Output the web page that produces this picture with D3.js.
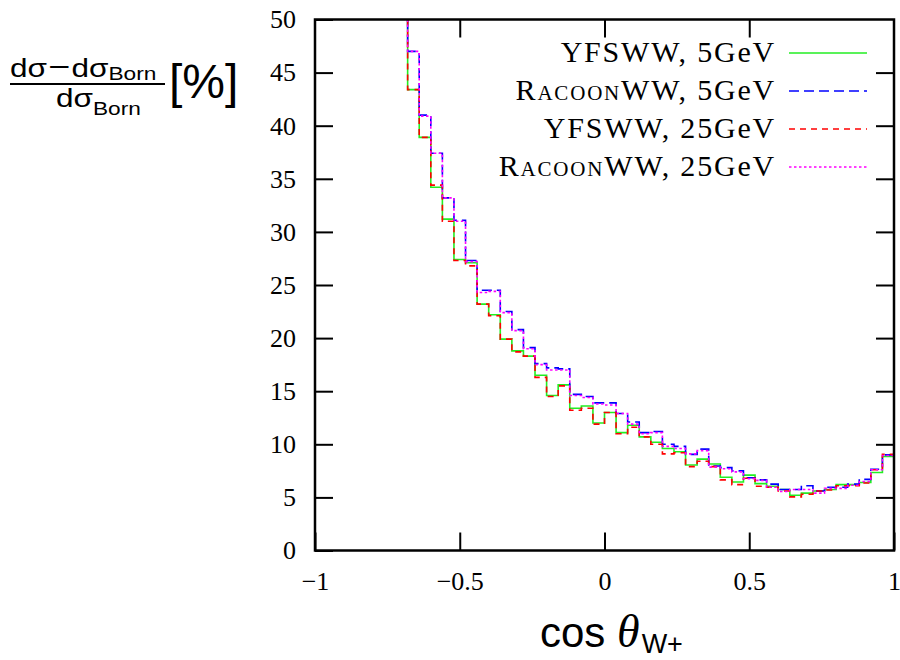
<!DOCTYPE html>
<html>
<head>
<meta charset="utf-8">
<script src="https://cdn.jsdelivr.net/npm/d3@7"></script>
<style>
  body { margin: 0; background: #fff; }
  svg { display: block; }
</style>
</head>
<body>
<script>

// histogram bins: 0.04 wide, first visible bin starts at cos = -0.68
const binStart = -0.68;
const binWidth = 0.04;

const yfsww5 = [43.4, 38.9, 34.2, 31.2, 27.4, 27.1, 23.2, 22.2, 19.9, 18.8, 18.3, 16.5, 14.6, 15.6,
    13.4, 13.6, 12.0, 13.0, 11.1, 11.8, 10.7, 10.2, 9.6, 9.3, 8.05, 8.6, 8.15, 6.9, 6.45, 7.1,
    6.3, 6.05, 5.75, 5.2, 5.4, 5.6, 5.75, 6.2, 6.2, 6.4, 7.35, 8.85];
const racoon5 = [47.0, 41.0, 37.4, 33.2, 31.1, 27.3, 24.5, 24.5, 22.5, 20.8, 19.1, 17.6, 17.2, 17.1,
    14.7, 14.5, 13.9, 13.9, 12.9, 12.1, 11.1, 11.2, 10.0, 9.8, 9.05, 9.55, 7.95, 7.8, 7.5, 6.85,
    6.65, 6.25, 5.75, 5.75, 6.1, 5.6, 5.95, 5.95, 6.25, 6.7, 7.65, 9.0];
const yfsww25 = [43.4, 38.9, 34.4, 31.0, 27.3, 26.8, 23.2, 22.1, 19.9, 18.7, 18.3, 16.3, 14.5, 15.5,
    13.2, 13.4, 11.9, 13.0, 11.0, 11.6, 10.7, 10.0, 9.1, 9.2, 7.9, 8.4, 7.9, 6.65, 6.2, 6.8,
    6.05, 5.95, 5.6, 5.05, 5.3, 5.6, 5.7, 6.1, 6.1, 6.35, 7.6, 9.05];
const racoon25 = [47.0, 40.9, 37.4, 33.2, 31.0, 27.2, 24.3, 24.4, 22.4, 20.7, 19.0, 17.5, 17.0, 17.0,
    14.6, 14.4, 13.8, 13.7, 12.9, 11.9, 11.0, 11.1, 9.8, 9.6, 9.1, 9.4, 7.85, 7.7, 7.4, 6.75,
    6.6, 5.95, 5.55, 5.75, 5.75, 5.4, 5.85, 5.85, 6.15, 6.5, 7.6, 8.95];

const xTicks = [-1, -0.5, 0, 0.5, 1];
const xTickLabels = ["\u22121", "\u22120.5", "0", "0.5", "1"];
const yTicks = [0, 5, 10, 15, 20, 25, 30, 35, 40, 45, 50];

// legend: [program, energy, values, color, dash]
const series = [
    ["YFSWW", "5GeV", yfsww5, "#22ee22", null],
    ["Racoon", "5GeV", racoon5, "#0000ff", "10,5"],
    ["YFSWW", "25GeV", yfsww25, "#ff0000", "6,5"],
    ["Racoon", "25GeV", racoon25, "#ff00ff", "2.5,2.5"]
];

const W = 900, H = 660;
const L = 315, R = 894, T = 19.5, B = 550.5;

const svg = d3.select("body").append("svg").attr("width", W).attr("height", H);

const x = d3.scaleLinear().domain([-1, 1]).range([L, R]);
const y = d3.scaleLinear().domain([0, 50]).range([B, T]);

svg.append("clipPath").attr("id", "clip")
    .append("rect").attr("x", L).attr("y", T).attr("width", R - L).attr("height", B - T);

function stepPoints(vals){
    const pts = [[binStart, y.domain()[1]]];
    vals.forEach((v, i)=>{ pts.push([binStart + i * binWidth, v]); });
    pts.push([x.domain()[1], vals[vals.length - 1]]);
    return pts;
}

const line = d3.line()
    .x(d=>x(d[0]))
    .y(d=>y(d[1]))
    .curve(d3.curveStepAfter);

const plot = svg.append("g").attr("clip-path", "url(#clip)");
series.forEach(s=>{
    plot.append("path")
        .attr("d", line(stepPoints(s[2])))
        .attr("fill", "none")
        .attr("stroke", s[3])
        .attr("stroke-width", 1.6)
        .attr("stroke-dasharray", s[4]);
});

// axes, ticks pointing inwards
const tickFont = "'Liberation Serif', serif";
function styleAxis(g){
    g.select(".domain").remove();
    g.selectAll(".tick line").attr("stroke", "#000").attr("stroke-width", 2);
    g.selectAll(".tick text").attr("fill", "#000").style("font-family", tickFont).style("font-size", "26px");
}

svg.append("g").attr("transform", `translate(${L},0)`)
    .call(d3.axisLeft(y).tickValues(yTicks).tickSize(-18).tickPadding(19).tickFormat(d3.format("d")))
    .call(styleAxis);
svg.append("g").attr("transform", `translate(${R},0)`)
    .call(d3.axisRight(y).tickValues(yTicks.slice(1, -1)).tickSize(-18).tickFormat(""))
    .call(styleAxis);
svg.append("g").attr("transform", `translate(0,${B})`)
    .call(d3.axisBottom(x).tickValues(xTicks).tickSize(-18).tickPadding(21)
        .tickFormat((d, i)=>xTickLabels[i]))
    .call(styleAxis);
svg.append("g").attr("transform", `translate(0,${T})`)
    .call(d3.axisTop(x).tickValues(xTicks.slice(1, -1)).tickSize(-18).tickFormat(""))
    .call(styleAxis);

svg.append("rect")
    .attr("x", L).attr("y", T).attr("width", R - L).attr("height", B - T)
    .attr("fill", "none").attr("stroke", "#000").attr("stroke-width", 2.5);

// legend
const legend = svg.append("g").style("font-family", tickFont).style("font-size", "30px");
series.forEach((s, i)=>{
    const ly = 53 + i * 38;
    const t = legend.append("text")
        .attr("x", 776).attr("y", ly + 9)
        .attr("text-anchor", "end")
        .style("letter-spacing", "1.8px");
    if (s[0] === "Racoon"){
        t.append("tspan").style("font-variant", "small-caps").text("Racoon");
        t.append("tspan").text("WW, " + s[1]);
    } else {
        t.text(s[0] + ", " + s[1]);
    }
    legend.append("line")
        .attr("x1", 789).attr("x2", 867).attr("y1", ly).attr("y2", ly)
        .attr("stroke", s[3]).attr("stroke-width", 1.6)
        .attr("stroke-dasharray", s[4]);
});

// y axis label: (dσ − dσ_Born) / dσ_Born [%], stretched a little to match the wide original glyphs
const sans = "'Liberation Sans', sans-serif";
const sx = 1.26;
const ylab = svg.append("g").attr("transform", `scale(${sx},1)`)
    .style("font-family", sans).attr("fill", "#000");
const num = ylab.append("text").attr("x", 10 / sx).attr("y", 77).style("font-size", "25px");
num.append("tspan").text("d\u03c3");
num.append("tspan").attr("dx", 1).style("font-size", "30px").text("\u2212");
num.append("tspan").attr("dx", 1).text("d\u03c3");
num.append("tspan").attr("dy", 3).style("font-size", "18px").text("Born");
const den = ylab.append("text").attr("x", 56 / sx).attr("y", 107).style("font-size", "25px");
den.append("tspan").text("d\u03c3");
den.append("tspan").attr("dy", 8).style("font-size", "18px").text("Born");

svg.append("line").attr("x1", 10).attr("x2", 165).attr("y1", 84).attr("y2", 84)
    .attr("stroke", "#000").attr("stroke-width", 2);
svg.append("text").attr("x", 169).attr("y", 98).attr("fill", "#000")
    .style("font-family", sans).style("font-size", "48px").text("[%]");

// x axis label: cos θ_W+
const xlab = svg.append("text").attr("x", 540).attr("y", 647).attr("fill", "#000")
    .style("font-family", sans).style("font-size", "42px");
xlab.append("tspan").text("cos ");
xlab.append("tspan").style("font-family", tickFont).style("font-style", "italic").style("font-size", "46px").text("\u03b8");
xlab.append("tspan").attr("dx", 2).attr("dy", 6).style("font-size", "27px").text("W+");

</script>
</body>
</html>
